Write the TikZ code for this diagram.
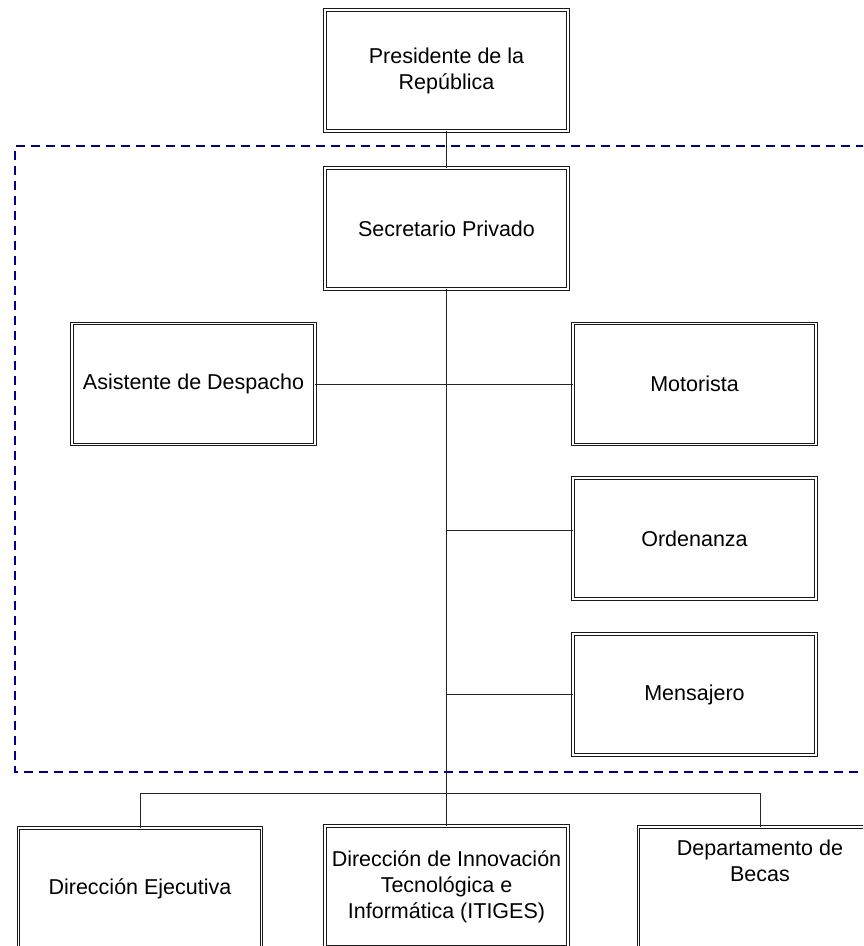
\documentclass[tikz,border=0pt]{standalone}
\usepackage{fontspec}
\setmainfont{Liberation Sans}
\definecolor{frameblue}{RGB}{0,0,140}
\begin{document}
\begin{tikzpicture}[x=1pt,y=-1pt,
  unit/.style={draw=black!90, double=white, line width=1pt, double distance=1.8pt,
    fill=white, minimum width=243pt, minimum height=121pt, inner sep=2pt,
    outer sep=0pt, align=center, font=\fontsize{21.5}{26}\selectfont},
  plaintext/.style={align=center, inner sep=0pt, font=\fontsize{21.5}{26}\selectfont},
  link/.style={draw=black!85, line width=0.8pt},
  zone/.style={draw=frameblue, line width=2.4pt, dash pattern=on 9pt off 6pt}]
\useasboundingbox (0,0) rectangle (863,946);
\clip (0,0) rectangle (863,946);

% dashed boundary of the private office
\draw[zone] (880,146) -- (15,146) -- (15,772) -- (880,772);

% units
\node[unit] (pres)  at (446.5,70.5)  {Presidente de la\\República};
\node[unit] (sec)   at (446.5,228.5) {Secretario Privado};
\node[unit] (asis)  at (193.5,384)   {Asistente de Despacho};
\node[unit] (moto)  at (694.5,384)   {Motorista};
\node[unit] (ord)   at (694.5,538.5) {Ordenanza};
\node[unit] (mens)  at (694.5,694.5) {Mensajero};
\node[unit] (dirEj) at (140,888.5)   {Dirección Ejecutiva};
\node[unit] (innov) at (446.5,886.5) {Dirección de Innovación\\Tecnológica e\\Informática (ITIGES)};
\node[unit] (becas) at (760,887.5)   {};
\node[plaintext] (becastxt) at ([yshift=27pt]becas.center) {Departamento de\\Becas};

% connectors
\draw[link] (pres.south) -- (sec.north);
\draw[link] (sec.south) -- (innov.north);
\draw[link] (asis.east) -- (moto.west);
\coordinate (ordjoin) at (446.5,530);
\draw[link] (ordjoin) -- (ordjoin -| ord.west);
\draw[link] (mens.west -| sec.south) -- (mens.west);
\coordinate (bus) at (446.5,793);
\draw[link] (dirEj.north) |- (bus) -| (becas.north);
\end{tikzpicture}
\end{document}
